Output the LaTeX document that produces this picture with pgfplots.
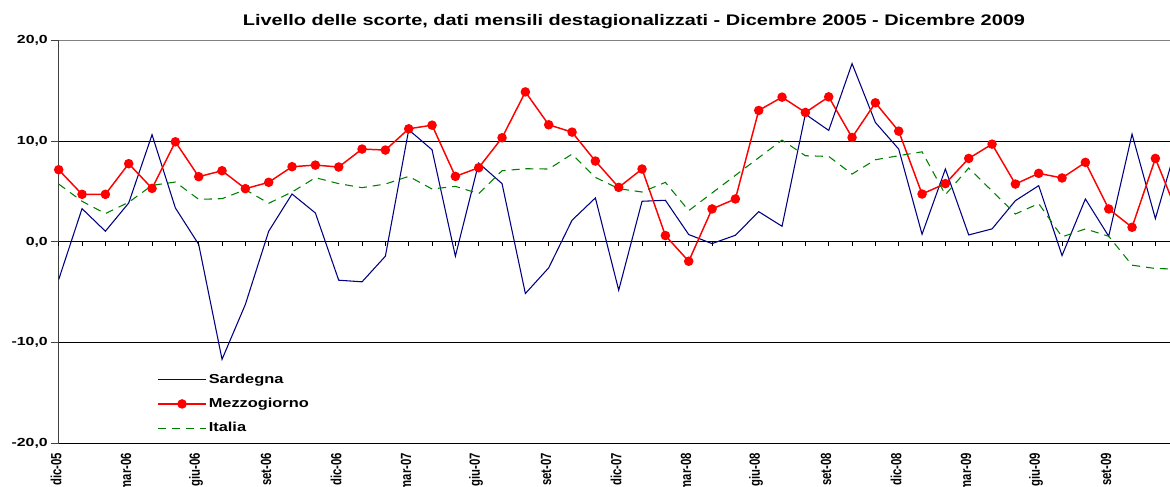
\documentclass[border=0pt]{standalone}
\usepackage{pgfplots}
\pgfplotsset{compat=1.18}
\usepackage{pgfplotstable}
\usepackage{graphicx}
\usepackage{fontspec}
\setmainfont{Liberation Sans}
\newfontfamily\tickfont[FakeStretch=1.35]{Liberation Sans}
\newfontfamily\legfont[FakeStretch=1.26]{Liberation Sans}
\newfontfamily\titfont[FakeStretch=1.3]{Liberation Sans}
\newcommand\sx[1]{\scalebox{1}[1.3]{#1}}
\definecolor{sard}{RGB}{0,0,128}
\definecolor{mezz}{RGB}{255,0,0}
\definecolor{ital}{RGB}{0,128,0}
\pgfplotstableread{
i sard mezz ital
0 -3.73 7.16 5.74
1 3.30 4.72 4.03
2 1.06 4.72 2.81
3 3.86 7.76 3.93
4 10.63 5.31 5.61
5 3.37 9.93 5.94
6 -0.25 6.47 4.22
7 -11.65 7.06 4.29
8 -6.20 5.28 5.18
9 1.06 5.91 3.83
10 4.75 7.46 4.95
11 2.87 7.62 6.37
12 -3.80 7.43 5.78
13 -3.96 9.21 5.38
14 -1.42 9.11 5.74
15 11.12 11.22 6.50
16 9.14 11.58 5.25
17 -1.42 6.50 5.51
18 7.82 7.36 4.79
19 5.78 10.33 7.06
20 -5.12 14.88 7.26
21 -2.57 11.62 7.23
22 2.15 10.89 8.71
23 4.36 8.02 6.40
24 -4.79 5.41 5.28
25 4.03 7.23 4.95
26 4.13 0.63 5.91
27 0.73 -1.92 3.10
28 -0.17 3.27 4.85
29 0.66 4.26 6.60
30 3.00 13.04 8.35
31 1.55 14.36 10.10
32 12.67 12.84 8.55
33 11.06 14.39 8.48
34 17.69 10.36 6.73
35 11.85 13.80 8.15
36 9.21 10.99 8.55
37 0.76 4.75 8.94
38 7.23 5.78 4.69
39 0.69 8.28 7.33
40 1.29 9.70 5.05
41 4.09 5.74 2.77
42 5.58 6.80 3.80
43 -1.35 6.34 0.50
44 4.26 7.89 1.29
45 0.56 3.27 0.56
46 10.69 1.45 -2.31
47 2.31 8.28 -2.64
48 10.30 2.53 -2.70
}\datatab
\begin{document}
\begin{tikzpicture}
\begin{axis}[
  at={(44.03pt,31.875pt)}, anchor=south west,
  width=840pt, height=302.4pt, scale only axis,
  xmin=0, xmax=48, ymin=-20, ymax=20,
  axis x line=bottom, axis y line=left,
  axis line style={-},
  x axis line style={draw=none},
  y axis line style={draw=black!75, line width=0.7pt},
  xtick={0,3,...,48},
  xticklabels={\sx{dic-05},\sx{mar-06},\sx{giu-06},\sx{set-06},\sx{dic-06},\sx{mar-07},\sx{giu-07},\sx{set-07},\sx{dic-07},\sx{mar-08},\sx{giu-08},\sx{set-08},\sx{dic-08},\sx{mar-09},\sx{giu-09},\sx{set-09},\sx{dic-09}},
  x tick style={draw=none},
  xticklabel style={yshift=-1pt, xshift=-2pt, rotate=90, anchor=east, inner sep=0pt, font=\bfseries\fontsize{8.5}{10}\selectfont},
  ytick={-20,-10,0,10},
  yticklabels={-20{,}0,-10{,}0,0{,}0,10{,}0},
  extra y ticks={20}, extra y tick labels={20{,}0},
  extra y tick style={grid style={black!50, line width=0.7pt}},
  y tick style={draw=black!75, line width=0.7pt},
  tick align=outside, major tick length=6pt,
  yticklabel style={font=\tickfont\bfseries\fontsize{8.8}{10}\selectfont, inner sep=2pt},
  ymajorgrids, grid style={black, line width=0.7pt},
  legend style={at={(0.0878,0.178)}, anchor=north west, draw=none, fill=none,
    font=\legfont\bfseries\fontsize{9.75}{11}\selectfont, row sep=6.6pt, inner sep=0pt,
    nodes={inner sep=1.5pt}},
  legend cell align=left,
  legend image code/.code={\draw[mark repeat=2,mark phase=2,#1] plot coordinates {(0pt,0pt) (18pt,0pt) (36pt,0pt)};},
  clip=true,
]
\addplot[sard, line width=0.8pt] table[x=i, y=sard] {\datatab};
\addlegendentry{Sardegna}
\addplot[mezz, line width=1.1pt, mark=*, mark size=3pt, mark options={fill=mezz, draw=mezz}] table[x=i, y=mezz] {\datatab};
\addlegendentry{Mezzogiorno}
\addplot[ital, line width=0.8pt, dash pattern=on 6pt off 4.5pt] table[x=i, y=ital] {\datatab};
\addlegendentry{Italia}
\end{axis}
\begin{axis}[
  at={(44.03pt,31.875pt)}, anchor=south west,
  width=840pt, height=302.4pt, scale only axis,
  xmin=0, xmax=48, ymin=-20, ymax=20,
  axis x line=middle, axis y line=none,
  axis line style={-},
  x axis line style={draw=none},
  xtick={0,1,...,48}, xticklabels={},
  x tick style={draw=black, line width=0.7pt},
  xtick align=outside, major tick length=3pt,
]
\end{axis}
\node[font=\titfont\bfseries\fontsize{11.5}{13}\selectfont] at (475.5pt,348pt) {Livello delle scorte, dati mensili destagionalizzati - Dicembre 2005 - Dicembre 2009};
\pgfresetboundingbox
\path[use as bounding box] (0pt,0pt) rectangle (877.5pt,364.5pt);
\end{tikzpicture}
\end{document}
